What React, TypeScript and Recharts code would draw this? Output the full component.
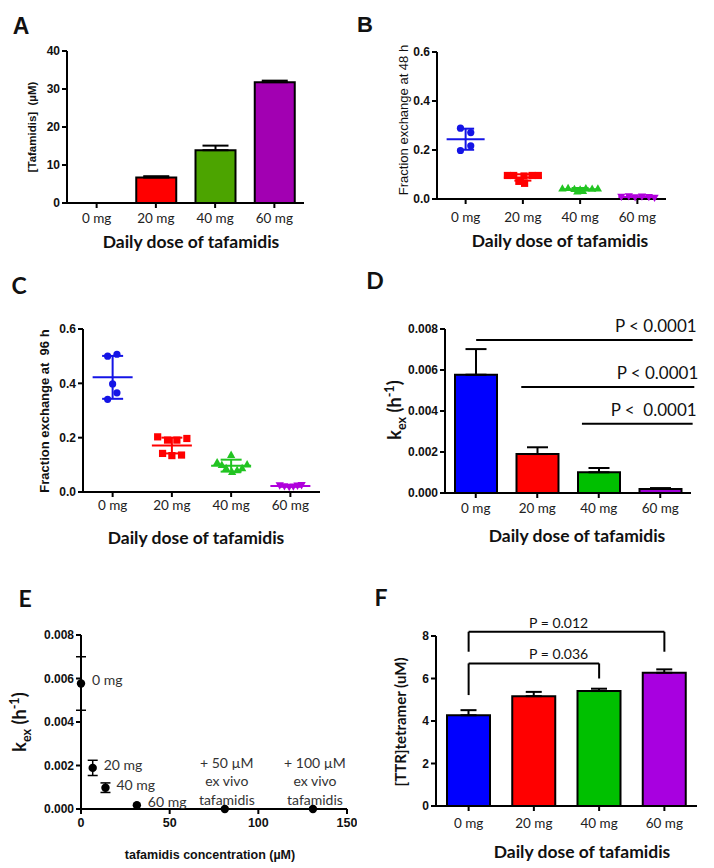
import React from "react";
import {
  BarChart,
  Bar,
  Cell,
  XAxis,
  YAxis,
  ErrorBar,
  ReferenceLine,
  ScatterChart,
  Scatter,
} from "recharts";

// ---- shared categories ----
const doses = ["0 mg", "20 mg", "40 mg", "60 mg"];

// ---- A: plasma tafamidis (µM) ----
const tafConc = [0, 6.7, 13.9, 31.8];
const tafConcErr = [0, 0.35, 1.2, 0.4];

// ---- B: fraction exchange at 48 h (x jitter inside each dose column) ----
const ex48 = [
  [0.289, 0.271, 0.217, 0.198],
  [0.096, 0.096, 0.094, 0.096, 0.096, 0.072, 0.064],
  [0.042, 0.044, 0.04, 0.038, 0.043, 0.041, 0.042, 0.03, 0.032],
  [0.01, 0.012, 0.008, 0.011, 0.009, 0.006],
];
const ex48Jitter = [
  [-0.09, 0.09, 0.09, -0.09],
  [-0.27, -0.16, 0.02, 0.16, 0.27, -0.07, 0.03],
  [-0.31, -0.21, -0.1, 0, 0.1, 0.21, 0.31, -0.05, 0.05],
  [-0.28, -0.15, -0.04, 0.08, 0.2, 0.3],
];
const ex48Mean = [0.244, 0.088, 0.04, 0.008];
const ex48Sd = [0.043, 0.013, 0.005, 0.003];

// ---- C: fraction exchange at 96 h ----
const ex96 = [
  [0.5, 0.507, 0.398, 0.365, 0.341],
  [0.203, 0.191, 0.191, 0.197, 0.142, 0.134, 0.136],
  [0.109, 0.099, 0.136, 0.087, 0.073, 0.08, 0.087, 0.101],
  [0.025, 0.022, 0.019, 0.021, 0.024, 0.026],
];
const ex96Jitter = [
  [-0.084, 0.073, 0, 0.073, -0.084],
  [-0.24, -0.073, 0.084, 0.253, -0.157, 0, 0.163],
  [-0.236, -0.157, 0, -0.084, 0.017, 0.101, 0.186, 0.27],
  [-0.18, -0.1, -0.02, 0.05, 0.12, 0.19],
];
const ex96Mean = [0.422, 0.171, 0.097, 0.022];
const ex96Sd = [0.079, 0.029, 0.022, 0.003];

// ---- D: k_ex (h^-1) ----
const kex = [0.00577, 0.0019, 0.00101, 0.0002];
const kexErr = [0.00125, 0.00033, 0.00021, 0.00004];
// comparison lines; x on a hidden 0..3 axis spanning the plot width
const dComparisons = [
  { from: 0.38, to: 3.02, y: 0.00746, text: "P < 0.0001" },
  { from: 0.93, to: 3.04, y: 0.00517, text: "P < 0.0001" },
  { from: 1.67, to: 3.02, y: 0.00338, text: "P <  0.0001" },
];

// ---- E: k_ex vs tafamidis concentration ----
const eConc = [0, 6.6, 13.8, 31.5, 81.1, 130.8];
const eKex = [0.00577, 0.00189, 0.00098, 0.00017, 0, 0];
const eKexErr = [0.00123, 0.00035, 0.00022, 0, 0, 0];
const eLabels = [
  "0 mg",
  "20 mg",
  "40 mg",
  "60 mg",
  "+ 50 µM\nex vivo\ntafamidis",
  "+ 100 µM\nex vivo\ntafamidis",
];

// ---- F: TTR tetramer (uM) ----
const ttr = [4.27, 5.17, 5.41, 6.27];
const ttrErr = [0.24, 0.2, 0.11, 0.16];
const fBrackets = [
  { from: "0 mg", to: "60 mg", top: 8.2, leftEnd: 7.26, rightEnd: 7.26, text: "P = 0.012" },
  { from: "0 mg", to: "40 mg", top: 6.71, leftEnd: 5.22, rightEnd: 6.0, text: "P = 0.036" },
];

// ---- styles ----
const axisStroke = { stroke: "#000", strokeWidth: 2 };
const numFont = "'Liberation Sans', Arial, sans-serif";
const lato = "Lato, 'Open Sans', sans-serif";
const numTick = { fill: "#111", fontSize: 12, fontWeight: 700, fontFamily: numFont };
const catTick = { fill: "#222", fontSize: 13.5, fontFamily: lato };

const aColors = ["#0000ff", "#ff0000", "#4ca400", "#a200b2"];
const dColors = ["#0000ff", "#ff0000", "#00bf00", "#a000d8"];
const fColors = ["#0000ff", "#ff0000", "#00c000", "#a800e0"];
const dotColors = ["#1414e6", "#ff0000", "#22c422", "#b000dc"];
const markerKinds = ["circle", "square", "triangle", "down"];

function Txt({
  x,
  y,
  children,
  size,
  weight = 400,
  family = lato,
  rotate = false,
  color = "#111",
}: any) {
  return (
    <div
      style={{
        position: "absolute",
        left: x,
        top: y,
        transform: `translate(-50%, -50%)${rotate ? " rotate(-90deg)" : ""}`,
        fontSize: size,
        fontWeight: weight,
        fontFamily: family,
        whiteSpace: "pre",
        lineHeight: 1,
        color,
      }}
    >
      {children}
    </div>
  );
}

function Marker({ cx, cy, kind, color }: any) {
  const r = 3.6;
  if (cx == null || cy == null) return null;
  if (kind === "circle") return <circle cx={cx} cy={cy} r={r} fill={color} />;
  if (kind === "square")
    return <rect x={cx - r} y={cy - r} width={2 * r} height={2 * r} fill={color} />;
  if (kind === "triangle")
    return (
      <polygon
        points={`${cx},${cy - r * 1.25} ${cx - r * 1.15},${cy + r * 0.8} ${cx + r * 1.15},${cy + r * 0.8}`}
        fill={color}
      />
    );
  return (
    <polygon
      points={`${cx},${cy + r * 1.25} ${cx - r * 1.15},${cy - r * 0.8} ${cx + r * 1.15},${cy - r * 0.8}`}
      fill={color}
    />
  );
}

// ErrorBar "width" in recharts 3 is the half-length of the cap
function DotPlot({
  values,
  jitter,
  means,
  sds,
  width,
  height,
  margin,
  yWidth,
  tickMargin,
  meanHalf,
  capHalf,
}: any) {
  return (
    <ScatterChart width={width} height={height} margin={margin}>
      <XAxis
        type="number"
        dataKey="x"
        domain={[-0.5, 3.5]}
        ticks={[0, 1, 2, 3]}
        interval={0}
        tickFormatter={(v: number) => doses[Math.round(v)]}
        height={30}
        axisLine={axisStroke}
        tickLine={axisStroke}
        tickSize={5}
        tickMargin={tickMargin}
        tick={catTick}
      />
      <YAxis
        type="number"
        dataKey="y"
        domain={[0, 0.6]}
        ticks={[0, 0.2, 0.4, 0.6]}
        tickFormatter={(v: number) => v.toFixed(1)}
        width={yWidth}
        axisLine={axisStroke}
        tickLine={axisStroke}
        tickSize={5}
        tick={numTick}
      />
      {values.map((vals: number[], g: number) => (
        <Scatter
          key={`pts-${g}`}
          data={vals.map((y, i) => ({ x: g + jitter[g][i], y }))}
          isAnimationActive={false}
          shape={(p: any) => (
            <Marker cx={p.cx} cy={p.cy} kind={markerKinds[g]} color={dotColors[g]} />
          )}
        />
      ))}
      {means.map((m: number, g: number) => (
        <Scatter
          key={`mean-${g}`}
          data={[{ x: g, y: m, sd: sds[g] }]}
          isAnimationActive={false}
          shape={(p: any) => (
            <line
              x1={p.cx - meanHalf}
              x2={p.cx + meanHalf}
              y1={p.cy}
              y2={p.cy}
              stroke={dotColors[g]}
              strokeWidth={2}
            />
          )}
        >
          <ErrorBar
            dataKey="sd"
            direction="y"
            width={capHalf}
            stroke={dotColors[g]}
            strokeWidth={2}
          />
        </Scatter>
      ))}
    </ScatterChart>
  );
}

function EPoint(p: any) {
  const { cx, cy } = p;
  if (cx == null || cy == null) return null;
  const label: string = (p.payload && p.payload.label) || p.label || "";
  const lines = label.split("\n");
  return (
    <g>
      <circle cx={cx} cy={cy} r={4.2} fill="#000" />
      {lines.length > 1 ? (
        <text
          x={cx + 2}
          y={cy - 46}
          textAnchor="middle"
          fill="#333"
          fontSize={14}
          fontFamily={lato}
        >
          {lines.map((t, i) => (
            <tspan key={i} x={cx + 2} dy={i === 0 ? "0.35em" : 18.3}>
              {t}
            </tspan>
          ))}
        </text>
      ) : (
        <text
          x={cx + 11}
          y={cy - 3}
          dy="0.35em"
          fill="#333"
          fontSize={14}
          fontFamily={lato}
        >
          {label}
        </text>
      )}
    </g>
  );
}

export default function App() {
  const aData = doses.map((dose, i) => ({ dose, value: tafConc[i], err: [0, tafConcErr[i]] }));
  const dData = doses.map((dose, i) => ({ dose, value: kex[i], err: [0, kexErr[i]] }));
  const fData = doses.map((dose, i) => ({ dose, value: ttr[i], err: [0, ttrErr[i]] }));
  const ePts = eConc.map((x, i) => ({ x, y: eKex[i], err: eKexErr[i], label: eLabels[i] }));
  const eWithErr = ePts.filter((p) => p.err > 0);
  const eNoErr = ePts.filter((p) => p.err === 0);

  const pLabel = (text: string, dx: number) => (props: any) => {
    const vb = props.viewBox || {};
    return (
      <text
        x={vb.x + vb.width + dx}
        y={vb.y - 8}
        textAnchor="end"
        fill="#111"
        fontSize={17}
        fontFamily={lato}
        style={{ whiteSpace: "pre" }}
      >
        {text}
      </text>
    );
  };
  const bracketLabel = (text: string) => (props: any) => {
    const vb = props.viewBox || {};
    return (
      <text
        x={vb.x + 90}
        y={vb.y - 4}
        textAnchor="middle"
        fill="#111"
        fontSize={14}
        fontFamily={lato}
      >
        {text}
      </text>
    );
  };

  return (
    <div
      style={{
        position: "absolute",
        left: 0,
        top: 0,
        width: 714,
        height: 868,
        background: "#fff",
        overflow: "hidden",
      }}
    >
      {/* ---------- A ---------- */}
      <div style={{ position: "absolute", left: 0, top: 0 }}>
        <BarChart width={357} height={260} data={aData} margin={{ top: 51, right: 53, left: 0, bottom: 27 }}>
          <XAxis
            dataKey="dose"
            height={30}
            interval={0}
            axisLine={axisStroke}
            tickLine={axisStroke}
            tickSize={5}
            tickMargin={5}
            tick={catTick}
          />
          <YAxis
            width={67}
            domain={[0, 40]}
            ticks={[0, 10, 20, 30, 40]}
            axisLine={axisStroke}
            tickLine={axisStroke}
            tickSize={5}
            tick={numTick}
          />
          <Bar dataKey="value" barSize={40} stroke="#000" strokeWidth={2} isAnimationActive={false}>
            {aData.map((_, i) => (
              <Cell key={i} fill={aColors[i]} />
            ))}
            <ErrorBar dataKey="err" width={13} stroke="#000" strokeWidth={2} direction="y" />
          </Bar>
        </BarChart>
      </div>

      {/* ---------- B ---------- */}
      <div style={{ position: "absolute", left: 357, top: 0 }}>
        <DotPlot
          values={ex48}
          jitter={ex48Jitter}
          means={ex48Mean}
          sds={ex48Sd}
          width={357}
          height={260}
          margin={{ top: 52, right: 48, left: 0, bottom: 31 }}
          yWidth={80}
          tickMargin={8}
          meanHalf={19}
          capHalf={8.5}
        />
      </div>

      {/* ---------- C ---------- */}
      <div style={{ position: "absolute", left: 0, top: 280 }}>
        <DotPlot
          values={ex96}
          jitter={ex96Jitter}
          means={ex96Mean}
          sds={ex96Sd}
          width={357}
          height={260}
          margin={{ top: 49, right: 37, left: 0, bottom: 18 }}
          yWidth={83}
          tickMargin={3}
          meanHalf={20}
          capHalf={10.5}
        />
      </div>

      {/* ---------- D ---------- */}
      <div style={{ position: "absolute", left: 357, top: 280 }}>
        <BarChart width={357} height={260} data={dData} margin={{ top: 49, right: 23, left: 0, bottom: 17 }}>
          <XAxis
            dataKey="dose"
            height={30}
            interval={0}
            axisLine={axisStroke}
            tickLine={axisStroke}
            tickSize={5}
            tickMargin={5}
            tick={catTick}
          />
          <XAxis xAxisId="pos" type="number" domain={[0, 3]} hide allowDataOverflow />
          <YAxis
            width={88}
            domain={[0, 0.008]}
            ticks={[0, 0.002, 0.004, 0.006, 0.008]}
            tickFormatter={(v: number) => v.toFixed(3)}
            axisLine={axisStroke}
            tickLine={axisStroke}
            tickSize={5}
            tick={numTick}
          />
          <Bar dataKey="value" barSize={42} stroke="#000" strokeWidth={2} isAnimationActive={false}>
            {dData.map((_, i) => (
              <Cell key={i} fill={dColors[i]} />
            ))}
            <ErrorBar dataKey="err" width={10.5} stroke="#000" strokeWidth={2} direction="y" />
          </Bar>
          {dComparisons.map((c, i) => (
            <ReferenceLine
              key={i}
              xAxisId="pos"
              segment={[
                { x: c.from, y: c.y },
                { x: c.to, y: c.y },
              ]}
              stroke="#000"
              strokeWidth={2}
              ifOverflow="visible"
              label={pLabel(c.text, 4)}
            />
          ))}
        </BarChart>
      </div>

      {/* ---------- E ---------- */}
      <div style={{ position: "absolute", left: 0, top: 580 }}>
        <ScatterChart width={357} height={288} margin={{ top: 55, right: 10, left: 0, bottom: 29 }}>
          <XAxis
            type="number"
            dataKey="x"
            domain={[0, 150]}
            ticks={[0, 50, 100, 150]}
            interval={0}
            height={30}
            axisLine={axisStroke}
            tickLine={axisStroke}
            tickSize={5}
            tickMargin={4}
            tick={{ ...numTick, fontSize: 12.5 }}
          />
          <YAxis
            type="number"
            dataKey="y"
            domain={[0, 0.008]}
            ticks={[0, 0.002, 0.004, 0.006, 0.008]}
            tickFormatter={(v: number) => v.toFixed(3)}
            width={81}
            axisLine={axisStroke}
            tickLine={axisStroke}
            tickSize={5}
            tick={numTick}
          />
          <Scatter data={eWithErr} isAnimationActive={false} shape={(p: any) => <EPoint {...p} />}>
            <ErrorBar dataKey="err" direction="y" width={5} stroke="#000" strokeWidth={1.5} />
          </Scatter>
          <Scatter data={eNoErr} isAnimationActive={false} shape={(p: any) => <EPoint {...p} />} />
        </ScatterChart>
      </div>

      {/* ---------- F ---------- */}
      <div style={{ position: "absolute", left: 357, top: 580 }}>
        <BarChart width={357} height={288} data={fData} margin={{ top: 56, right: 17, left: 0, bottom: 32 }}>
          <XAxis
            dataKey="dose"
            height={30}
            interval={0}
            axisLine={axisStroke}
            tickLine={axisStroke}
            tickSize={5}
            tickMargin={7}
            tick={catTick}
          />
          <YAxis
            width={79}
            domain={[0, 8]}
            ticks={[0, 2, 4, 6, 8]}
            axisLine={axisStroke}
            tickLine={axisStroke}
            tickSize={5}
            tick={numTick}
          />
          <Bar dataKey="value" barSize={43} stroke="#000" strokeWidth={2} isAnimationActive={false}>
            {fData.map((_, i) => (
              <Cell key={i} fill={fColors[i]} />
            ))}
            <ErrorBar dataKey="err" width={8} stroke="#000" strokeWidth={2} direction="y" />
          </Bar>
          {fBrackets.map((b, i) => [
            <ReferenceLine
              key={`l${i}`}
              segment={[
                { x: b.from, y: b.top },
                { x: b.from, y: b.leftEnd },
              ]}
              stroke="#000"
              strokeWidth={2}
              ifOverflow="visible"
            />,
            <ReferenceLine
              key={`h${i}`}
              segment={[
                { x: b.from, y: b.top },
                { x: b.to, y: b.top },
              ]}
              stroke="#000"
              strokeWidth={2}
              ifOverflow="visible"
              label={bracketLabel(b.text)}
            />,
            <ReferenceLine
              key={`r${i}`}
              segment={[
                { x: b.to, y: b.top },
                { x: b.to, y: b.rightEnd },
              ]}
              stroke="#000"
              strokeWidth={2}
              ifOverflow="visible"
            />,
          ])}
        </BarChart>
      </div>

      {/* ---------- panel letters ---------- */}
      <Txt x={21} y={26} size={23} weight={700} family={numFont}>A</Txt>
      <Txt x={365} y={25} size={22} weight={700} family={numFont}>B</Txt>
      <Txt x={19} y={285} size={23} weight={700}>C</Txt>
      <Txt x={375} y={280} size={23} weight={700}>D</Txt>
      <Txt x={25} y={598} size={23} weight={700}>E</Txt>
      <Txt x={381} y={597} size={23} weight={700}>F</Txt>

      {/* ---------- axis titles ---------- */}
      <Txt x={33} y={127} size={11.5} weight={700} family={numFont} rotate>
        {"[Tafamidis]  (µM)"}
      </Txt>
      <Txt x={191} y={242} size={17.5} weight={700}>Daily dose of tafamidis</Txt>

      <Txt x={403} y={120} size={13} family={numFont} rotate>
        Fraction exchange at 48 h
      </Txt>
      <Txt x={560} y={241} size={17.5} weight={700}>Daily dose of tafamidis</Txt>

      <Txt x={44} y={411} size={13} weight={700} family={numFont} rotate>
        {"Fraction exchange at  96 h"}
      </Txt>
      <Txt x={196} y={538} size={17.5} weight={700}>Daily dose of tafamidis</Txt>

      <Txt x={396} y={410} size={18} weight={700} rotate>
        <span>
          k<sub style={{ fontSize: "0.7em" }}>ex</sub> (h<sup style={{ fontSize: "0.7em" }}>-1</sup>)
        </span>
      </Txt>
      <Txt x={577} y={536} size={17.5} weight={700}>Daily dose of tafamidis</Txt>

      <Txt x={21} y={722} size={18} weight={700} rotate>
        <span>
          k<sub style={{ fontSize: "0.7em" }}>ex</sub> (h<sup style={{ fontSize: "0.7em" }}>-1</sup>)
        </span>
      </Txt>
      <Txt x={210} y={855} size={12.5} weight={700} family={numFont}>
        tafamidis concentration (µM)
      </Txt>

      <Txt x={400} y={722} size={15} weight={700} rotate>
        [TTR]tetramer (uM)
      </Txt>
      <Txt x={582} y={852} size={17.5} weight={700}>Daily dose of tafamidis</Txt>
    </div>
  );
}
